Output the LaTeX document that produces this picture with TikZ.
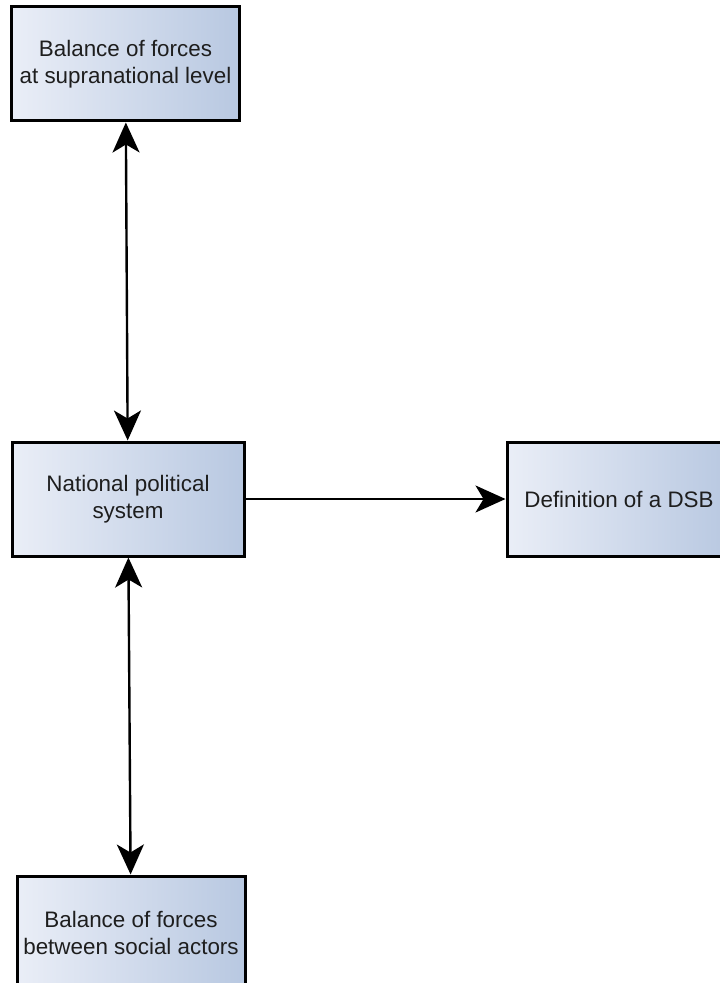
\documentclass[tikz,border=0pt]{standalone}
\usepackage{fontspec}
\setmainfont{Liberation Sans}
\usetikzlibrary{arrows.meta,positioning}
\definecolor{boxlight}{RGB}{234,238,247}
\definecolor{boxdark}{RGB}{184,200,225}
\definecolor{textdark}{RGB}{30,30,30}

\begin{document}
\begin{tikzpicture}[
  >={Stealth[length=15pt, width=13.5pt, inset=4pt]},
  box/.style={draw, line width=1.5pt, align=center, minimum width=114pt, minimum height=57pt, inner sep=2pt, font=\fontsize{11.2}{13.5}\selectfont, text=textdark, left color=boxlight, right color=boxdark},
  twoway/.style={<->, line width=1.2pt},
  oneway/.style={->, line width=1pt}
]
  \useasboundingbox (0,0) rectangle (359.5pt,-491.5pt);
  \node[box, minimum width=116pt] (nat) at (64pt,-249.5pt) {National political\\ system};
  \node[box, above=159pt of nat, xshift=-1.25pt] (sup) {Balance of forces\\ at supranational level};
  \node[box, right=130pt of nat, minimum width=112pt] (dsb) {Definition of a DSB};
  \node[box, below=158.5pt of nat, xshift=1.5pt] (soc) {Balance of forces\\ between social actors};
  \draw[twoway] (sup) -- (nat);
  \draw[twoway] (nat) -- (soc);
  \draw[oneway] (nat) -- (dsb);
\end{tikzpicture}
\end{document}
